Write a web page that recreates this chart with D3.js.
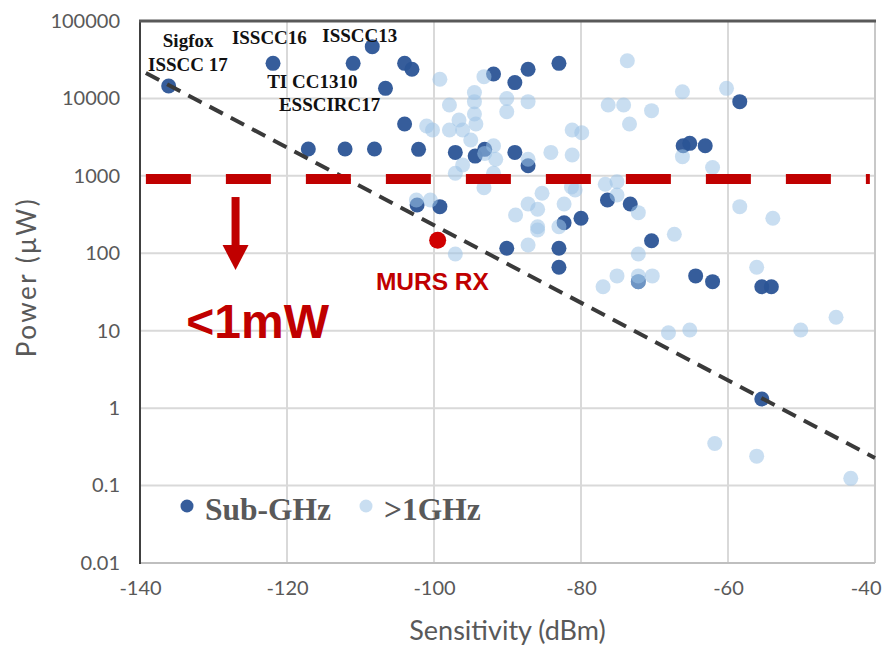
<!DOCTYPE html>
<html>
<head>
<meta charset="utf-8">
<script src="https://cdn.jsdelivr.net/npm/d3@7"></script>
<style>
  body { margin: 0; background: #fff; }
</style>
</head>
<body>
<div id="chart"></div>
<script>
// sensitivity (dBm), power (uW)
const sub_ghz = [
  [-136.1, 14500], [-121.9, 28400], [-111.0, 28400], [-108.4, 46600], [-104.0, 28400],
  [-103.0, 23800], [-106.6, 13500], [-104.0, 4680], [-117.1, 2220], [-112.1, 2220],
  [-108.1, 2220], [-102.1, 2200], [-97.1, 2010], [-94.4, 1800], [-93.1, 2200],
  [-89.0, 2010], [-87.2, 1350], [-91.9, 20700], [-89.0, 16000], [-87.2, 23800],
  [-83.0, 28400], [-66.1, 2450], [-65.2, 2630], [-63.1, 2450], [-58.4, 9080],
  [-102.3, 421], [-99.2, 400], [-90.1, 116], [-83.0, 116], [-83.0, 66],
  [-82.3, 248], [-80.0, 283], [-76.4, 487], [-73.3, 433], [-70.4, 145],
  [-72.2, 43], [-64.4, 51], [-62.1, 43], [-55.4, 37], [-54.1, 37], [-55.4, 1.31]
];

const above_1ghz = [
  [-99.2, 17700], [-93.2, 19100], [-94.5, 11900], [-94.5, 9080], [-97.9, 8230],
  [-90.1, 10000], [-87.2, 9080], [-90.1, 6740], [-94.5, 6290], [-94.3, 4680],
  [-96.6, 5260], [-101.0, 4400], [-100.2, 3910], [-97.9, 3910], [-96.1, 3910],
  [-95.0, 2900], [-91.9, 2450], [-93.1, 1950], [-91.6, 1640], [-96.1, 1380],
  [-97.1, 1080], [-91.9, 1080], [-87.2, 1640], [-84.1, 2010], [-81.2, 3910],
  [-79.9, 3610], [-81.2, 1860], [-73.7, 30700], [-76.3, 8230], [-74.2, 8230],
  [-73.4, 4680], [-70.4, 6950], [-66.2, 12200], [-60.2, 13500], [-66.2, 1770],
  [-62.1, 1280], [-93.2, 703], [-76.7, 778], [-75.1, 841], [-80.8, 657],
  [-81.3, 720], [-75.1, 566], [-102.4, 487], [-100.5, 487], [-97.1, 98],
  [-88.9, 312], [-87.2, 433], [-85.9, 370], [-85.9, 220], [-85.9, 200],
  [-87.2, 128], [-85.3, 596], [-82.3, 433], [-83.0, 220], [-72.2, 335],
  [-67.3, 176], [-72.2, 98], [-77.0, 37], [-75.1, 51], [-72.2, 51],
  [-70.3, 51], [-72.2, 43], [-68.1, 9.4], [-65.2, 10.2], [-58.4, 400],
  [-53.9, 283], [-56.1, 66], [-45.3, 14.9], [-50.1, 10.2], [-61.8, 0.35],
  [-56.1, 0.24], [-43.3, 0.124]
];

const murs = [-99.5, 147];
const trend = [[-139.2, 21300], [-40, 0.227]];
const threshold = 910;   // the "1mW" red line
const x_ticks = [-140, -120, -100, -80, -60, -40];
const y_ticks = [0.01, 0.1, 1, 10, 100, 1000, 10000, 100000];

// chip labels : text, sensitivity, power (where the text baseline starts)
const chip_labels = [
  ["Sigfox", -136.9, 46100],
  ["ISSCC 17", -138.9, 22800],
  ["ISSCC16", -127.5, 50500],
  ["ISSCC13", -115.2, 54100],
  ["TI CC1310", -122.7, 13500],
  ["ESSCIRC17", -121.1, 6890]
];

const width = 891, height = 647;
const margin = ({top: 21, right: 16, bottom: 84, left: 140});

const svg = d3.select("#chart").append("svg")
  .attr("width", width)
  .attr("height", height)
  .style("background", "#fff");

const x = d3.scaleLinear()
  .domain([-140, -40])
  .range([margin.left, width - margin.right]);

const y = d3.scaleLog()
  .domain([0.01, 100000])
  .range([height - margin.bottom, margin.top]);

// grid
svg.append("g").selectAll("line.vgrid")
  .data(x_ticks)
  .enter().append("line")
  .attr("x1", d => x(d)).attr("x2", d => x(d))
  .attr("y1", margin.top).attr("y2", height - margin.bottom)
  .attr("stroke", "#d9d9d9").attr("stroke-width", 2);

svg.append("g").selectAll("line.hgrid")
  .data(y_ticks)
  .enter().append("line")
  .attr("x1", margin.left).attr("x2", width - margin.right)
  .attr("y1", d => y(d)).attr("y2", d => y(d))
  .attr("stroke", "#d9d9d9").attr("stroke-width", 2);

// frame : right and bottom light, left and top dark
svg.append("line")
  .attr("x1", width - margin.right).attr("x2", width - margin.right)
  .attr("y1", margin.top).attr("y2", height - margin.bottom)
  .attr("stroke", "#c8c8c8").attr("stroke-width", 2);
svg.append("line")
  .attr("x1", margin.left).attr("x2", width - margin.right)
  .attr("y1", height - margin.bottom).attr("y2", height - margin.bottom)
  .attr("stroke", "#bfbfbf").attr("stroke-width", 2);

// axes (library axes, ticks hidden, only labels kept)
let xAxis = g => g
  .attr("transform", `translate(0,${height - margin.bottom})`)
  .call(d3.axisBottom(x).tickValues(x_ticks).tickSize(0).tickPadding(18).tickFormat(d => String(d)))
  .call(g => g.select(".domain").remove());

let yAxis = g => g
  .attr("transform", `translate(${margin.left},0)`)
  .call(d3.axisLeft(y).tickValues(y_ticks).tickSize(0).tickPadding(20)
        .tickFormat(d => d < 1 ? String(d) : d3.format("d")(d)))
  .call(g => g.select(".domain").remove());

const gx = svg.append("g").call(xAxis);
svg.append("g").call(yAxis);

svg.selectAll(".tick text")
  .attr("font-family", "Lato, 'Open Sans', sans-serif")
  .attr("font-size", 20)
  .attr("fill", "#595959");

// last x label sits against the right edge
gx.selectAll(".tick text").filter(d => d === -40)
  .attr("text-anchor", "end")
  .attr("dx", 6);

svg.append("line")
  .attr("x1", margin.left).attr("x2", margin.left)
  .attr("y1", margin.top - 1).attr("y2", height - margin.bottom + 1)
  .attr("stroke", "#404040").attr("stroke-width", 2);
svg.append("line")
  .attr("x1", margin.left - 1).attr("x2", width - margin.right + 1)
  .attr("y1", margin.top).attr("y2", margin.top)
  .attr("stroke", "#595959").attr("stroke-width", 3);

// axis titles
svg.append("text")
  .attr("transform", `translate(36,${(margin.top + height - margin.bottom) / 2 - 15}) rotate(-90)`)
  .attr("text-anchor", "middle")
  .attr("font-family", "Lato, 'Open Sans', sans-serif")
  .attr("font-size", 26)
  .attr("letter-spacing", 2.5)
  .attr("fill", "#595959")
  .text("Power (μW)");

svg.append("text")
  .attr("x", (margin.left + width - margin.right) / 2)
  .attr("y", 640)
  .attr("text-anchor", "middle")
  .attr("font-family", "Lato, 'Open Sans', sans-serif")
  .attr("font-size", 27)
  .attr("fill", "#595959")
  .text("Sensitivity (dBm)");

// points : sub-GHz first, >1GHz drawn over it
svg.append("g").selectAll("circle")
  .data(sub_ghz)
  .enter().append("circle")
  .attr("cx", d => x(d[0]))
  .attr("cy", d => y(d[1]))
  .attr("r", 7.5)
  .attr("fill", "#2b5496")
  .attr("fill-opacity", 0.95);

svg.append("g").selectAll("circle")
  .data(above_1ghz)
  .enter().append("circle")
  .attr("cx", d => x(d[0]))
  .attr("cy", d => y(d[1]))
  .attr("r", 7.5)
  .attr("fill", "#9dc3e6")
  .attr("fill-opacity", 0.55);

// trend line
svg.append("path")
  .attr("d", d3.line().x(d => x(d[0])).y(d => y(d[1]))(trend))
  .attr("fill", "none")
  .attr("stroke", "#3a3a3a")
  .attr("stroke-width", 4)
  .attr("stroke-dasharray", "15,9");

// 1mW red threshold
svg.append("line")
  .attr("x1", x(-139.2)).attr("x2", x(-40.7))
  .attr("y1", y(threshold)).attr("y2", y(threshold))
  .attr("stroke", "#c00000")
  .attr("stroke-width", 10)
  .attr("stroke-dasharray", "45,35");

// arrow going down from the threshold
const ax = x(-127);
const a_top = y(threshold) + 18, a_bot = a_top + 73;
svg.append("line")
  .attr("x1", ax).attr("x2", ax)
  .attr("y1", a_top).attr("y2", a_bot - 22)
  .attr("stroke", "#c00000").attr("stroke-width", 8);
svg.append("path")
  .attr("d", `M${ax - 13},${a_bot - 25} L${ax + 13},${a_bot - 25} L${ax},${a_bot} Z`)
  .attr("fill", "#c00000");

svg.append("text")
  .attr("x", x(-133.7)).attr("y", y(8))
  .attr("font-family", "Arial, 'Liberation Sans', sans-serif")
  .attr("font-weight", "bold")
  .attr("font-size", 48)
  .attr("fill", "#c00000")
  .text("<1mW");

// MURS RX point
svg.append("circle")
  .attr("cx", x(murs[0])).attr("cy", y(murs[1]))
  .attr("r", 8.5)
  .attr("fill", "#d00000");

svg.append("text")
  .attr("x", x(-107.9)).attr("y", y(33.6))
  .attr("font-family", "Arial, 'Liberation Sans', sans-serif")
  .attr("font-weight", "bold")
  .attr("font-size", 24.5)
  .attr("fill", "#c00000")
  .text("MURS RX");

// chip names
svg.append("g").selectAll("text")
  .data(chip_labels)
  .enter().append("text")
  .attr("x", d => x(d[1]))
  .attr("y", d => y(d[2]))
  .attr("font-family", "'Liberation Serif', 'Times New Roman', serif")
  .attr("font-weight", "bold")
  .attr("font-size", 19)
  .attr("fill", "#111")
  .text(d => d[0]);

// legend
const legend = [["Sub-GHz", "#2b5496", 0.95, 187], [">1GHz", "#9dc3e6", 0.55, 366]];
const lg = svg.append("g");
lg.selectAll("circle")
  .data(legend)
  .enter().append("circle")
  .attr("cx", d => d[3]).attr("cy", 506)
  .attr("r", 6.5)
  .attr("fill", d => d[1])
  .attr("fill-opacity", d => d[2]);
lg.selectAll("text")
  .data(legend)
  .enter().append("text")
  .attr("x", d => d[3] + 18).attr("y", 520)
  .attr("font-family", "'Liberation Serif', 'Times New Roman', serif")
  .attr("font-weight", "bold")
  .attr("font-size", 31.5)
  .attr("fill", "#595959")
  .text(d => d[0]);
</script>
</body>
</html>
